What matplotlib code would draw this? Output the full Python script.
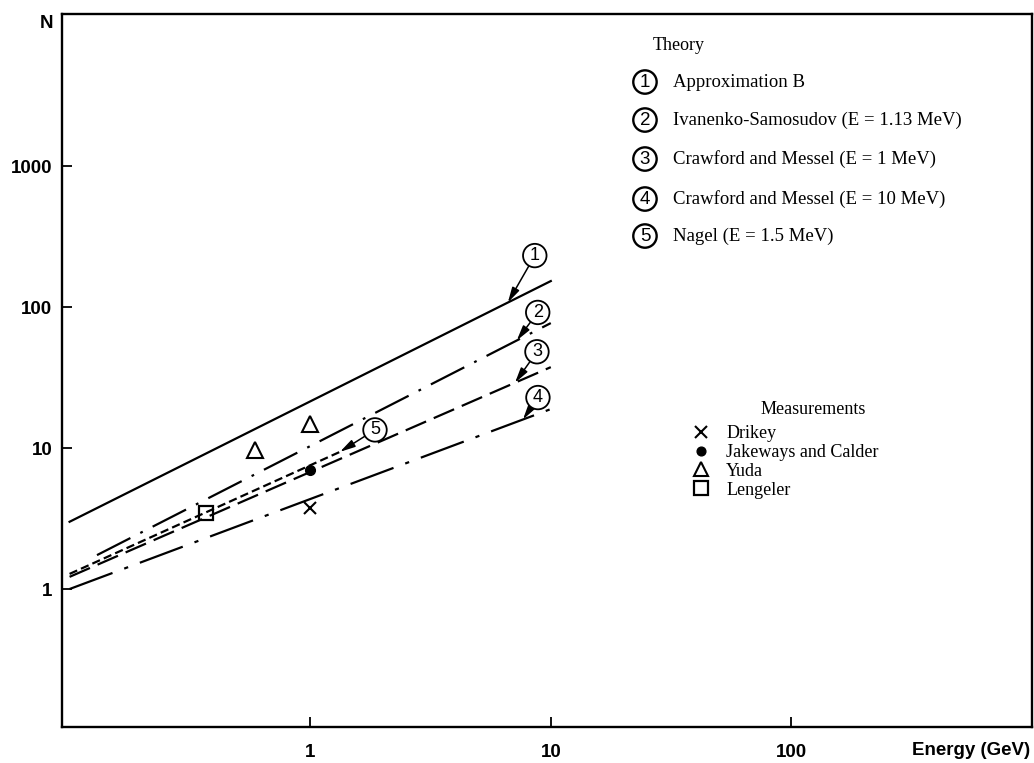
import numpy as np
import matplotlib
matplotlib.use("Agg")
import matplotlib.pyplot as plt
from matplotlib.font_manager import FontProperties

plt.rcParams['lines.scale_dashes'] = False

# ---------------- data ----------------
# Theory curves (Energy in GeV, N)
theory_names = ["Approximation B",
                "Ivanenko-Samosudov (E = 1.13 MeV)",
                "Crawford and Messel (E = 1 MeV)",
                "Crawford and Messel (E = 10 MeV)",
                "Nagel (E = 1.5 MeV)"]
E1 = [0.1, 10.0];  N1 = [3.0, 153.0]
E2 = [0.13, 10.0]; N2 = [1.74, 77.0]
E3 = [0.1, 10.0];  N3 = [1.22, 37.5]
E4 = [0.1, 10.0];  N4 = [1.0, 18.9]
E5 = [0.1, 1.33];  N5 = [1.28, 9.4]

# Energy where each curve's label arrow points
label_E = [6.63, 7.22, 7.1, 7.66, 1.33]

# Measurements
drikey_E = [1.0];        drikey_N = [3.75]
jakeways_E = [1.0];      jakeways_N = [7.0]
yuda_E = [0.59, 1.0];    yuda_N = [9.7, 14.8]
lengeler_E = [0.37];     lengeler_N = [3.46]

xticks = [1, 10, 100]
xticklabels = ["1", "10", "100"]
yticks = [1, 10, 100, 1000]
yticklabels = ["1", "10", "100", "1000"]

# ---------------- figure ----------------
fig = plt.figure(figsize=(10.34, 7.63), dpi=100)
ax = fig.add_axes([62/1034, 36/763, 970/1034, 713/763])
ax.set_xscale('log')
ax.set_yscale('log')
ax.set_xlim(0.093, 1000)
ax.set_ylim(0.105, 12000)

lw = 1.6
styles = [
    dict(linestyle='-'),
    dict(dashes=(27, 8, 2, 8)),
    dict(dashes=(16, 6)),
    dict(dashes=(33, 9, 3, 9)),
    dict(dashes=(6, 3)),
]
curves = [(E1, N1), (E2, N2), (E3, N3), (E4, N4), (E5, N5)]
for (E, N), st in zip(curves, styles):
    ax.plot(E, N, color='black', lw=lw, **st)

# measurement markers
h_dr, = ax.plot(drikey_E, drikey_N, ls='none', marker='x', ms=9, mew=1.5, color='black', label='Drikey')
h_jk, = ax.plot(jakeways_E, jakeways_N, ls='none', marker='o', ms=7, color='black', label='Jakeways and Calder')
h_yu, = ax.plot(yuda_E, yuda_N, ls='none', marker='^', ms=11, mew=1.5, mfc='white', mec='black', label='Yuda')
h_le, = ax.plot(lengeler_E, lengeler_N, ls='none', marker='s', ms=10.5, mew=1.6, mfc='none', mec='black', label='Lengeler')

# circled labels with arrows on the curves
offsets = [(19.4, 33.8), (15.1, 20.2), (15.8, 22.3), (10.8, 15.8), (25.2, 15.8)]
for i, ((E, N), xe, off) in enumerate(zip(curves, label_E, offsets)):
    ye = 10 ** np.interp(np.log10(xe), np.log10(E), np.log10(N))
    ax.annotate(str(i + 1), xy=(xe, ye), xytext=off, textcoords='offset points',
                ha='center', va='center', fontsize=13, family='Liberation Sans',
                bbox=dict(boxstyle='circle,pad=0.18', fc='white', ec='black', lw=1.3),
                arrowprops=dict(arrowstyle='-|>,head_length=0.7,head_width=0.18',
                                color='black', lw=1.1, shrinkA=0, shrinkB=0))

# theory legend
serif = 'Liberation Serif'
ax.text(0.636, 0.9565, "Theory", transform=ax.transAxes, ha='center', va='center',
        fontsize=13, family=serif)
rows_y = [0.9046, 0.8513, 0.7966, 0.7405, 0.6886]
for i, (name, yy) in enumerate(zip(theory_names, rows_y)):
    ax.text(0.601, yy, str(i + 1), transform=ax.transAxes, ha='center', va='center',
            fontsize=13.5, family='Liberation Sans',
            bbox=dict(boxstyle='circle,pad=0.17', fc='white', ec='black', lw=1.7))
    ax.text(0.630, yy, name, transform=ax.transAxes, ha='left', va='center',
            fontsize=13.5, family=serif)

# measurements legend
ax.text(0.774, 0.446, "Measurements", transform=ax.transAxes, ha='center', va='center',
        fontsize=13, family=serif)
leg = ax.legend(handles=[h_dr, h_jk, h_yu, h_le],
                loc='upper left', bbox_to_anchor=(0.6346, 0.441), frameon=False,
                prop=dict(family=serif, size=13),
                labelspacing=0.1, handletextpad=0.8, handlelength=1.2, borderpad=0.2,
                markerscale=0.9)

# axes styling
for s in ax.spines.values():
    s.set_linewidth(1.7)
ax.minorticks_off()
ax.set_xticks(xticks)
ax.set_xticklabels(xticklabels)
ax.set_yticks(yticks)
ax.set_yticklabels(yticklabels)
ax.tick_params(axis='both', which='major', direction='in', length=7, width=1.3,
               top=False, right=False)
ax.tick_params(axis='x', pad=12)
ax.tick_params(axis='y', pad=7)
tick_font = dict(family='Liberation Sans', weight='bold', size=13.5)
for lab in ax.get_xticklabels() + ax.get_yticklabels():
    lab.set_fontproperties(FontProperties(**tick_font))

ax.set_xlabel("Energy (GeV)", fontdict=tick_font, ha='right', va='center')
ax.xaxis.set_label_coords(0.998, -0.033)
ax.set_ylabel("N", fontdict=tick_font, rotation=0, ha='center', va='center')
ax.yaxis.set_label_coords(-0.0155, 0.986)

fig.savefig("out.png", dpi=100)
